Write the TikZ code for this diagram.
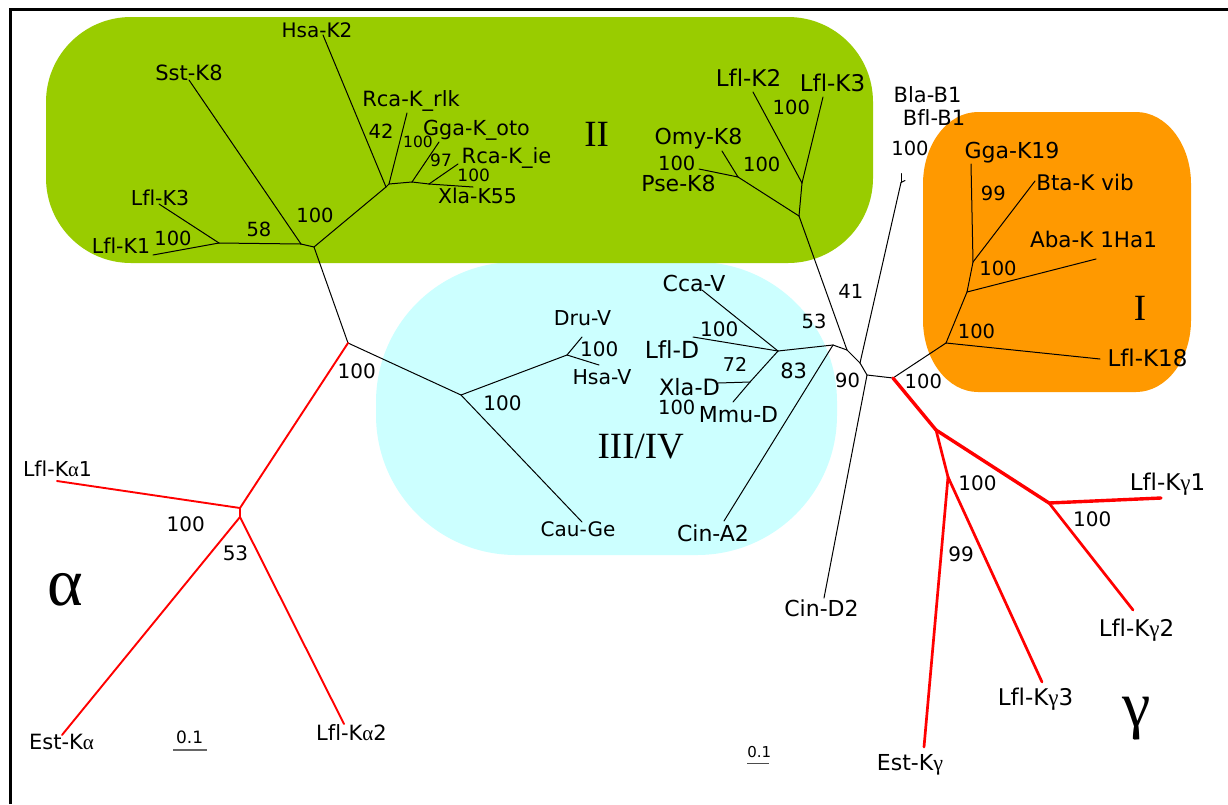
\documentclass[tikz,border=0pt]{standalone}
\usepackage{fontspec}
\setmainfont{DejaVu Sans}[Ligatures=CommonOff]
\newfontfamily\serifrm{Liberation Serif}
\definecolor{cladeII}{HTML}{99CC00}
\definecolor{cladeI}{HTML}{FF9900}
\definecolor{cladeIII}{HTML}{CCFFFF}
\newcommand\gk[1]{{\serifrm #1}}
\begin{document}
\begin{tikzpicture}[x=1pt,y=-1pt,
  br/.style={line width=1pt,black,line cap=round,line join=round},
  ra/.style={line width=1.9pt,red,line cap=round},
  rg/.style={line width=3.4pt,red,line cap=round},
  rgt/.style={line width=2.7pt,red,line cap=round},
  lab/.style={anchor=base,inner sep=0pt,font=\fontsize{#1}{#1}\selectfont},
  lab/.default=21,
  num/.style={lab=19.5},
  roman/.style={anchor=base,inner sep=0pt,font=\serifrm\fontsize{37}{37}\selectfont},
  greek/.style={anchor=base,inner sep=0pt,font=\serifrm\fontsize{#1}{#1}\selectfont}
]
\useasboundingbox (0,0) rectangle (1228,804);
\fill[white] (0,0) rectangle (1228,804);
% clade backgrounds
\fill[cladeIII,rounded corners=140pt] (376,262) rectangle (837,555);
\fill[cladeII,rounded corners=85pt] (46,17) rectangle (873,263);
\fill[cladeI] (978,112) -- (1136,112) arc[start angle=-90,end angle=0,x radius=55,y radius=72]
  -- (1191,320) arc[start angle=0,end angle=90,x radius=55,y radius=72]
  -- (978,392) arc[start angle=90,end angle=180,x radius=55,y radius=72]
  -- (923,184) arc[start angle=180,end angle=270,x radius=55,y radius=72] -- cycle;
% frame
\draw[line width=2.4pt] (10.5,804) -- (10.5,9.5) -- (1228,9.5);

% internal nodes
\coordinate (g) at (348,343);
\coordinate (c) at (314,247);
\coordinate (b) at (301,244);
\coordinate (a) at (219,243);
\coordinate (d) at (386,187);
\coordinate (d2) at (389,184);
\coordinate (e) at (412,182);
\coordinate (f) at (429,184);
\coordinate (i) at (799,216);
\coordinate (h) at (802,183);
\coordinate (j) at (738,177);
\coordinate (n) at (847,350);
\coordinate (o) at (860,363);
\coordinate (p) at (867,375);
\coordinate (q) at (893,378);
\coordinate (bl) at (901,182.5);
\coordinate (m) at (833,345);
\coordinate (w) at (778,351);
\coordinate (x) at (750,382);
\coordinate (u) at (461,395);
\coordinate (v) at (567,355);
\coordinate (r) at (946,343);
\coordinate (s) at (967,292);
\coordinate (t) at (973,262);
\coordinate (y) at (936,430);
\coordinate (z) at (1049,503);
\coordinate (aa) at (948,477);
\coordinate (bb) at (240,508);
\coordinate (cc) at (240,517);
% tips
\coordinate (tK1) at (153,255);
\coordinate (tK3a) at (159,204);
\coordinate (tSst) at (189,80);
\coordinate (tHsaK) at (323,35);
\coordinate (tRlk) at (407,113);
\coordinate (tOto) at (439,142);
\coordinate (tIe) at (458,164);
\coordinate (tX55) at (473,187);
\coordinate (tK2) at (753,92);
\coordinate (tK3b) at (823,97);
\coordinate (tOmy) at (722,151);
\coordinate (tPse) at (699,169);
\coordinate (tBla) at (901,173.5);
\coordinate (tBfl) at (905,180.5);
\coordinate (tGga) at (971,164);
\coordinate (tBta) at (1035,181);
\coordinate (tAba) at (1096,259);
\coordinate (tK18) at (1100,359);
\coordinate (tCca) at (702,290);
\coordinate (tLflD) at (693,337);
\coordinate (tXlaD) at (718,383);
\coordinate (tMmu) at (733,402);
\coordinate (tCinA) at (724,521);
\coordinate (tDru) at (582,337);
\coordinate (tHsaV) at (599,365);
\coordinate (tCau) at (582,522);
\coordinate (tCinD) at (824,598);
\coordinate (tG1) at (1161,498);
\coordinate (tG2) at (1133,610);
\coordinate (tG3) at (1042,682);
\coordinate (tEstG) at (924,747);
\coordinate (tA1) at (57,481);
\coordinate (tEstA) at (62,735);
\coordinate (tA2) at (344,724);

% black branches
\draw[br] (g) -- (c);
\draw[br] (g) -- (u);
\draw[br] (c) -- (b);
\draw[br] (b) -- (a);
\draw[br] (a) -- (tK1);
\draw[br] (a) -- (tK3a);
\draw[br] (b) -- (tSst);
\draw[br] (c) -- (d);
\draw[br] (d) -- (tHsaK);
\draw[br] (d) -- (d2);
\draw[br] (d2) -- (tRlk);
\draw[br] (d2) -- (e);
\draw[br] (e) -- (tOto);
\draw[br] (e) -- (f);
\draw[br] (f) -- (tIe);
\draw[br] (f) -- (tX55);
\draw[br] (n) -- (i);
\draw[br] (i) -- (h);
\draw[br] (h) -- (tK2);
\draw[br] (h) -- (tK3b);
\draw[br] (i) -- (j);
\draw[br] (j) -- (tOmy);
\draw[br] (j) -- (tPse);
\draw[br] (w) -- (m);
\draw[br] (m) -- (n);
\draw[br] (n) -- (o);
\draw[br] (o) -- (p);
\draw[br] (p) -- (q);
\draw[br] (o) -- (bl);
\draw[br] (bl) -- (tBla);
\draw[br] (bl) -- (tBfl);
\draw[br] (p) -- (tCinD);
\draw[br] (m) -- (tCinA);
\draw[br] (w) -- (tCca);
\draw[br] (w) -- (tLflD);
\draw[br] (w) -- (x);
\draw[br] (x) -- (tMmu);
\draw[br] (x) -- (tXlaD);
\draw[br] (u) -- (tCau);
\draw[br] (u) -- (v);
\draw[br] (v) -- (tDru);
\draw[br] (v) -- (tHsaV);
\draw[br] (q) -- (r);
\draw[br] (r) -- (tK18);
\draw[br] (r) -- (s);
\draw[br] (s) -- (tAba);
\draw[br] (s) -- (t);
\draw[br] (t) -- (tGga);
\draw[br] (t) -- (tBta);
% red alpha
\draw[ra] (g) -- (bb);
\draw[ra] (bb) -- (tA1);
\draw[ra] (bb) -- (cc);
\draw[ra] (cc) -- (tEstA);
\draw[ra] (cc) -- (tA2);
% red gamma
\draw[rg] (q) -- (y);
\draw[rg] (y) -- (z);
\draw[rg] (z) -- (tG1);
\draw[rgt] (z) -- (tG2);
\draw[rgt] (y) -- (aa);
\draw[rgt] (aa) -- (tEstG);
\draw[rgt] (aa) -- (tG3);

% leaf labels
\node[lab=20] (LHsaK2) at (317,37) {Hsa-K2};
\node[lab=21] (LSst) at (189,80.7) {Sst-K8};
\node[lab=20.5] (LK3a) at (160,205) {Lfl-K3};
\node[lab=20.5] (LK1) at (121,253) {Lfl-K1};
\node[lab=21] (LRlk) at (411,106.5) {Rca-K\_rlk};
\node[lab=20.7] (LOto) at (476.5,135) {Gga-K\_oto};
\node[lab=21] (LIe) at (506.5,163.3) {Rca-K\_ie};
\node[lab=20.4] (LX55) at (477.5,203.3) {Xla-K55};
\node[lab=23] (LK2) at (748.5,86.7) {Lfl-K2};
\node[lab=23] (LK3b) at (832.5,91.7) {Lfl-K3};
\node[lab=22] (LOmy) at (698.5,144) {Omy-K8};
\node[lab=22] (LPse) at (678.5,191.7) {Pse-K8};
\node[lab=21] (LBla) at (927.5,102.7) {Bla-B1};
\node[lab=21] (LBfl) at (934,125) {Bfl-B1};
\node[lab=22] (LGga) at (1012,158.3) {Gga-K19};
\node[lab=21.5] (LBta) at (1085,190) {Bta-K vib};
\node[lab=21.5] (LAba) at (1093.5,247.3) {Aba-K 1Ha1};
\node[lab=23] (LK18) at (1147.5,366.7) {Lfl-K18};
\node[lab=22] (LCca) at (694,291.7) {Cca-V};
\node[lab=20.5] (LDru) at (582.5,325) {Dru-V};
\node[lab=20.5] (LHsaV) at (602,384) {Hsa-V};
\node[lab=23.5] (LLflD) at (672,358.3) {Lfl-D};
\node[lab=22.5] (LXlaD) at (689.5,395) {Xla-D};
\node[lab=22] (LMmu) at (738.5,422.3) {Mmu-D};
\node[lab=20] (LCau) at (578,536.7) {Cau-Ge};
\node[lab=22] (LCinA) at (713,541.7) {Cin-A2};
\node[lab=22] (LCinD) at (821.5,616) {Cin-D2};
\node[lab=23] (LG1) at (1167.5,490.7) {Lfl-K\gk{γ}1};
\node[lab=23] (LG2) at (1136.5,636.7) {Lfl-K\gk{γ}2};
\node[lab=23] (LG3) at (1035.5,705) {Lfl-K\gk{γ}3};
\node[lab=22] (LEstG) at (910,770.7) {Est-K\gk{γ}};
\node[lab=20.5] (LA1) at (57.5,476) {Lfl-K\gk{α}1};
\node[lab=21] (LEstA) at (61.5,749.3) {Est-K\gk{α}};
\node[lab=21] (LA2) at (351.5,740.7) {Lfl-K\gk{α}2};

% bootstrap values
\node[num] (s1) at (173,245) {100};
\node[num] (s2) at (259,236.7) {58};
\node[num] (s3) at (315,222.3) {100};
\node[num] (s4) at (381,138.3) {42};
\node[lab=15.5] (s5) at (418,147.3) {100};
\node[lab=17] (s6) at (441,166.7) {97};
\node[lab=17] (s7) at (473.7,181.7) {100};
\node[num] (s8) at (676.7,170) {100};
\node[num] (s9) at (761.7,171.7) {100};
\node[num] (s10) at (791.3,114) {100};
\node[num] (s11) at (910,155.7) {100};
\node[num] (s12) at (993.3,200.7) {99};
\node[num] (s13) at (998,275) {100};
\node[num] (s14) at (976.5,338.3) {100};
\node[num] (s15) at (923.3,388.3) {100};
\node[num] (s16) at (850.8,298.3) {41};
\node[num] (s17) at (814,328.3) {53};
\node[lab=21] (s18) at (793.7,378.3) {83};
\node[num] (s19) at (847.5,387.3) {90};
\node[lab=20] (s20) at (599.2,356.7) {100};
\node[lab=20] (s21) at (502.5,410) {100};
\node[lab=20] (s22) at (719.2,336.7) {100};
\node[lab=19] (s23) at (735,371.7) {72};
\node[num] (s24) at (676.7,414) {100};
\node[lab=20] (s25) at (356.7,378.3) {100};
\node[lab=20] (s26) at (185.8,531.7) {100};
\node[lab=20] (s27) at (235.5,560.7) {53};
\node[lab=20] (s28) at (977.5,490) {100};
\node[lab=20] (s29) at (961.2,561.7) {99};
\node[lab=20] (s30) at (1092.2,526.7) {100};

% clade names
\node[roman] (nII) at (596.7,146.7) {II};
\node[roman] (nI) at (1140,320) {I};
\node[roman] (nIII) at (640.8,458.3) {III/IV};
\node[greek=68] (nalpha) at (65,605) {α};
\node[greek=64] (ngamma) at (1136.7,726) {γ};

% scale bars
\node[lab=17] (sc1) at (189.7,743.3) {0.1};
\draw[line width=1.2pt,black!60] (173,750) -- (207,750);
\node[lab=15] (sc2) at (759.2,757.3) {0.1};
\draw[line width=1pt,black!70] (747,763) -- (769,763);
\end{tikzpicture}
\end{document}
